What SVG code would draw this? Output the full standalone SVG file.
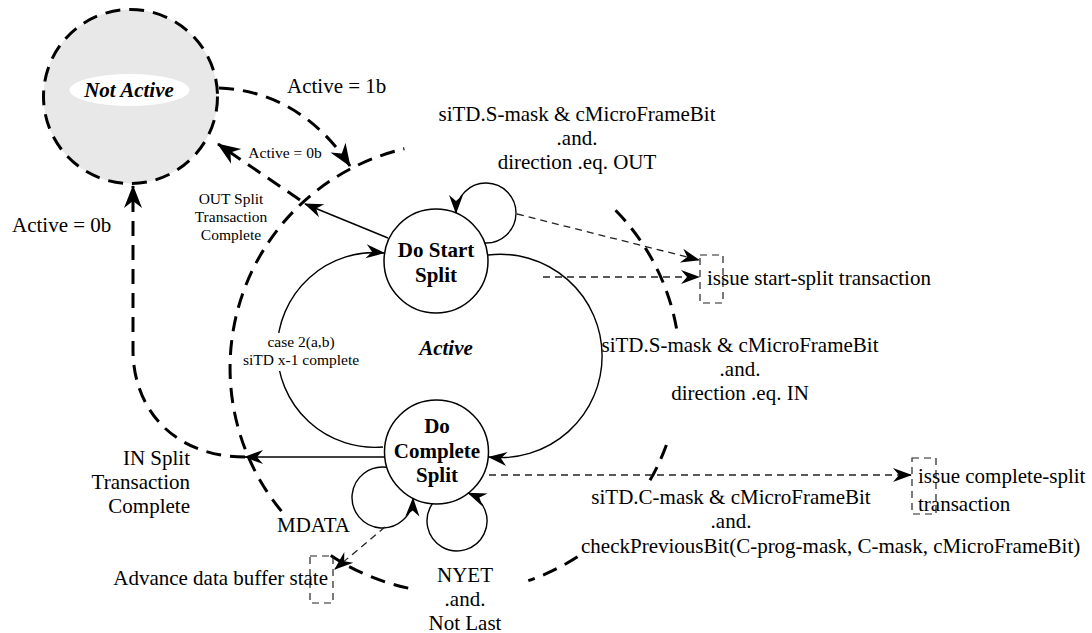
<svg xmlns="http://www.w3.org/2000/svg" width="1092" height="633" viewBox="0 0 1092 633">
<style>
text{font-family:"Liberation Serif","Times New Roman",serif;fill:#000}
.t21{font-size:21px}
.t16{font-size:15.5px}
.b{font-weight:bold}
.bi{font-weight:bold;font-style:italic}
.mid{text-anchor:middle}
.end{text-anchor:end}
.state{fill:#fff;stroke:#000;stroke-width:1.5}
.thick{fill:none;stroke:#000;stroke-width:3;stroke-dasharray:15 9}
.solid{fill:none;stroke:#000;stroke-width:1.4}
.thin{fill:none;stroke:#222;stroke-width:1.3;stroke-dasharray:7 5}
.box{fill:none;stroke:#222;stroke-width:1.2;stroke-dasharray:7 5}
</style>
<defs>
<marker id="ahb" viewBox="-24 -10 26 20" refX="0" refY="0" markerWidth="26" markerHeight="20" markerUnits="userSpaceOnUse" orient="auto"><path d="M1,0 L-22,-9 L-15,0 L-22,9 Z" fill="#000" stroke="none"/></marker>
<marker id="ah" viewBox="-20 -8 22 16" refX="0" refY="0" markerWidth="22" markerHeight="16" markerUnits="userSpaceOnUse" orient="auto"><path d="M1,0 L-18,-7 L-12,0 L-18,7 Z" fill="#000" stroke="none"/></marker>
</defs>

<g id="active-region">
<path class="thick" d="M615.5,210.3 A225,225 0 0 1 676.6,328.9"/>
<path class="thick" d="M666.4,445 A225,225 0 0 1 648.9,482.2"/>
<path class="thick" d="M577.5,556.7 A225,225 0 0 1 528.3,580.7"/>
<path class="thick" d="M408.2,588.1 A225,225 0 0 1 330.8,555.6"/>
<path class="thick" d="M281.4,511.1 A225,225 0 0 1 404.4,148.8"/>
<text class="t21 bi mid" x="446" y="355">Active</text>
</g>

<g id="not-active">
<circle cx="130.5" cy="96.5" r="87" fill="#e8e8e8" stroke="#000" stroke-width="3" stroke-dasharray="15 9"/>
<ellipse cx="129.5" cy="90" rx="60" ry="16" fill="#fff"/>
<text class="t21 bi mid" x="129" y="97">Not Active</text>
</g>

<g id="do-start-split">
<circle class="state" cx="436" cy="261" r="52"/>
<text class="t21 b mid" x="436" y="257">Do Start</text>
<text class="t21 b mid" x="436" y="282">Split</text>
</g>

<g id="do-complete-split">
<circle class="state" cx="436.5" cy="452" r="52"/>
<text class="t21 b mid" x="437" y="433">Do</text>
<text class="t21 b mid" x="437" y="458">Complete</text>
<text class="t21 b mid" x="437" y="482">Split</text>
</g>

<g id="issue-start-split">
<rect class="box" x="700" y="255" width="23" height="48"/>
<text class="t21" x="707" y="285">issue start-split transaction</text>
</g>

<g id="issue-complete-split">
<rect class="box" x="912" y="458" width="24" height="56"/>
<text class="t21" x="918" y="483">issue complete-split</text>
<text class="t21" x="918" y="511">transaction</text>
</g>

<g id="advance-data-buffer">
<rect class="box" x="310" y="556" width="23" height="47"/>
<text class="t21 end" x="328" y="585">Advance data buffer state</text>
</g>

<g id="connectors">
<path class="thick" d="M219,88 C275,90 320,120 350,166" marker-end="url(#ahb)"/>
<path class="thick" d="M300,200 L218,144" marker-end="url(#ahb)"/>
<path class="thick" d="M245,457 C175,457 133,410 133,350 L133,186" marker-end="url(#ahb)"/>
<path class="solid" d="M388,238 L305,204" marker-end="url(#ah)"/>
<path class="solid" d="M385,457 L245,457" marker-end="url(#ah)"/>
<path class="solid" d="M383,447 A97.4,97.4 0 1 1 384,253" marker-end="url(#ah)"/>
<path class="solid" d="M488,255 A101.7,101.7 0 1 1 489,457" marker-end="url(#ah)"/>
<path class="solid" d="M484.8,243 A30,30 0 1 0 456,213" marker-end="url(#ah)"/>
<path class="solid" d="M386.8,467.3 A30.5,30.5 0 1 0 413,498.4" marker-end="url(#ah)"/>
<path class="solid" d="M432.3,503.9 A30,30 0 1 0 468.3,493.1" marker-end="url(#ah)"/>
<path class="thin" d="M517,214 L699,260" marker-end="url(#ah)"/>
<path class="thin" d="M543,277 L699,277" marker-end="url(#ah)"/>
<path class="thin" d="M489,475 L911,475" marker-end="url(#ah)"/>
<path class="thin" d="M385,527 L335,569" marker-end="url(#ah)"/>
</g>

<g id="labels">
<text class="t21" x="287" y="93">Active = 1b</text>
<text class="t21" x="12" y="232">Active = 0b</text>
<text class="t16 mid" x="285" y="158">Active = 0b</text>
<text class="t16 mid" x="231" y="204">OUT Split</text>
<text class="t16 mid" x="231" y="222">Transaction</text>
<text class="t16 mid" x="231" y="240">Complete</text>
<text class="t21 mid" x="577" y="121">siTD.S-mask &amp; cMicroFrameBit</text>
<text class="t21 mid" x="577" y="145">.and.</text>
<text class="t21 mid" x="577" y="169">direction .eq. OUT</text>
<rect x="240" y="333" width="122" height="38" fill="#fff"/>
<text class="t16 mid" x="301" y="347">case 2(a,b)</text>
<text class="t16 mid" x="301" y="365">siTD x-1 complete</text>
<text class="t21 mid" x="740" y="352">siTD.S-mask &amp; cMicroFrameBit</text>
<text class="t21 mid" x="740" y="376">.and.</text>
<text class="t21 mid" x="740" y="400">direction .eq. IN</text>
<text class="t21 end" x="190" y="465">IN Split</text>
<text class="t21 end" x="190" y="489">Transaction</text>
<text class="t21 end" x="190" y="513">Complete</text>
<text class="t21 mid" x="731" y="504">siTD.C-mask &amp; cMicroFrameBit</text>
<text class="t21 mid" x="731" y="528">.and.</text>
<text class="t21" x="581" y="553">checkPreviousBit(C-prog-mask, C-mask, cMicroFrameBit)</text>
<text class="t21" x="277" y="532">MDATA</text>
<text class="t21 mid" x="465" y="582">NYET</text>
<text class="t21 mid" x="465" y="606">.and.</text>
<text class="t21 mid" x="465" y="630">Not Last</text>
</g>
</svg>
